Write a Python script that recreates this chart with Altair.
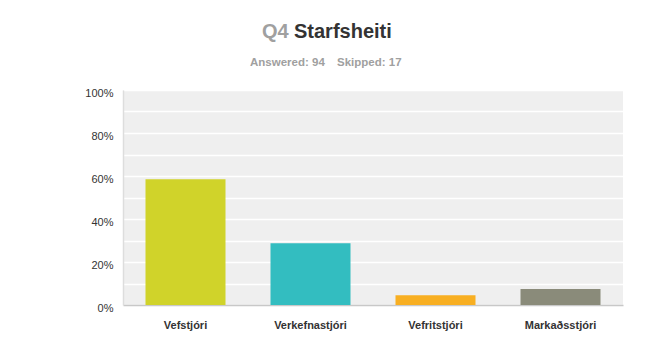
import altair as alt
import pandas as pd

categories = ["Vefstjóri", "Verkefnastjóri", "Vefritstjóri", "Markaðsstjóri"]
values = [0.585, 0.287, 0.045, 0.074]
colors = ["#D0D32A", "#33BDC0", "#F8AF22", "#8A8B7A"]

df = pd.DataFrame({"cat": categories, "val": values, "col": colors})

bars = alt.Chart(df).mark_bar().encode(
    x=alt.X("cat:N", sort=categories, title=None,
            scale=alt.Scale(paddingInner=0.36, paddingOuter=0.18),
            axis=alt.Axis(labelAngle=0, labelFont="Liberation Sans", labelFontSize=11,
                          labelFontWeight="bold", labelColor="#333333", ticks=False,
                          labelPadding=14, domainColor="#C8C8C8", domainWidth=1.5)),
    y=alt.Y("val:Q", title=None, scale=alt.Scale(domain=[0, 1], nice=False),
            axis=alt.Axis(values=[i / 10 for i in range(11)],
                          labelExpr="round(datum.value*10) % 2 == 0 ? format(datum.value, '.0%') : ''",
                          labelFont="Liberation Sans", labelFontSize=11, labelColor="#333333",
                          ticks=False, labelPadding=10, labelOffset=3, grid=True,
                          gridColor="#FFFFFF", gridWidth=1.5, domainColor="#DDDDDD",
                          domainWidth=1.5)),
    color=alt.Color("col:N", scale=None),
)

def txt(t, x, y, size, color, align="left", weight="bold"):
    return alt.Chart(pd.DataFrame({"t": [t]})).mark_text(
        align=align, baseline="middle", font="Liberation Sans", fontSize=size,
        fontWeight=weight, color=color
    ).encode(text="t:N", x=alt.value(x), y=alt.value(y))

title_q = txt("Q4", 139, -58, 20, "#A0A0A0")
title_s = txt("Starfsheiti", 171, -58, 20, "#333333")
sub_a = txt("Answered: 94", 127, -27, 11.5, "#A0A0A0")
sub_s = txt("Skipped: 17", 214, -27, 11.5, "#A0A0A0")

chart = alt.layer(bars, title_q, title_s, sub_a, sub_s).properties(
    width=500, height=215,
    autosize=alt.AutoSizeParams(type="none"),
    padding={"left": 115, "top": 82, "right": 19, "bottom": 50},
).configure_view(fill="#EFEFEF", stroke=None)

chart.save("out.html", embed_options={"renderer": "svg", "actions": False})
